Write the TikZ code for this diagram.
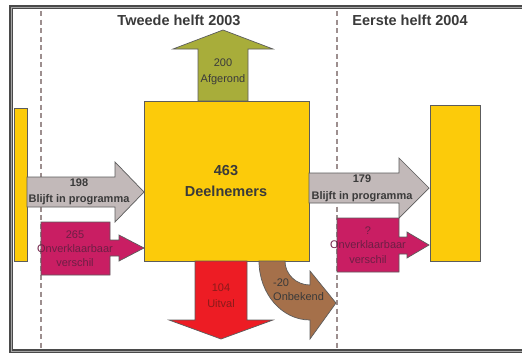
\documentclass[tikz,border=0pt]{standalone}
\usepackage{fontspec}
\setmainfont{Liberation Sans}
\definecolor{ylw}{HTML}{FCCB0A}
\definecolor{olv}{HTML}{A8AD3A}
\definecolor{gry}{HTML}{C2B9B9}
\definecolor{mag}{HTML}{C91E63}
\definecolor{rd}{HTML}{ED1C24}
\definecolor{brn}{HTML}{A5704A}
\definecolor{txt}{HTML}{3A3A3A}
\definecolor{magtxt}{HTML}{6E1E45}
\definecolor{rdtxt}{HTML}{8A1A1A}
\definecolor{dsh}{HTML}{9D8F8F}
\definecolor{frm}{HTML}{4A4A4A}
\tikzset{
  shapeline/.style={draw=frm!90, line width=0.7pt, line join=miter},
  divider/.style={dsh, line width=1.2pt, dash pattern=on 5pt off 3.5pt},
  titletext/.style={font=\fontsize{14.5}{16}\selectfont\bfseries, text=txt, inner sep=0pt},
  boldlabel/.style={font=\fontsize{11}{16}\selectfont\bfseries, text=txt, align=center, inner sep=0pt},
  plainlabel/.style={font=\fontsize{11}{16}\selectfont, text=txt, align=center, inner sep=0pt},
}
\begin{document}
\begin{tikzpicture}[x=1pt,y=-1pt]
\useasboundingbox (0,0) rectangle (522,354);
\fill[white] (0,0) rectangle (522,354);
% frame
\draw[frm, line width=4pt] (522,7) -- (11,7) -- (11,351) -- (522,351);
\draw[gray!70, line width=0.8pt] (522,7) -- (11,7) -- (11,351) -- (522,351);
% dividers
\coordinate (d1t) at (41,11); \coordinate (d1b) at (41,349);
\coordinate (d2t) at (337,11); \coordinate (d2b) at (337,349);
\draw[divider] (d1t) -- (d1b);
\draw[divider] (d2t) -- (d2b);
% titles
\node[titletext] (t1) at (179,20) {Tweede helft 2003};
\node[titletext] (t2) at (410,20) {Eerste helft 2004};
% left yellow bar
\filldraw[fill=ylw, shapeline] (14,108) rectangle (27,261);
% green arrow up
\filldraw[fill=olv, shapeline] (198,101) -- (198,49) -- (173,49) -- (223,30) -- (273,49) -- (248,49) -- (248,101) -- cycle;
% main box
\filldraw[fill=ylw, shapeline] (144,101) rectangle (309,261);
% gray left arrow
\filldraw[fill=gry, shapeline] (27,177) -- (115,177) -- (115,162) -- (144,192) -- (115,222) -- (115,207) -- (27,207) -- cycle;
% magenta left
\filldraw[fill=mag, shapeline] (41,222) -- (110,222) -- (110,240) -- (119,240) -- (119,235) -- (144,248) -- (119,261) -- (119,256) -- (110,256) -- (110,275) -- (41,275) -- cycle;
% red arrow down
\filldraw[fill=rd, shapeline] (195,261) -- (247,261) -- (247,320) -- (273,320) -- (221,339) -- (169,320) -- (195,320) -- cycle;
% brown curved arrow
\filldraw[fill=brn, shapeline] (259,261) .. controls (259,293.6) and (281.8,320) .. (310,320) -- (310,339) -- (336,303) -- (310,271) -- (310,285) .. controls (296.2,285) and (285,274.3) .. (285,261) -- cycle;
% gray right arrow
\filldraw[fill=gry, shapeline] (309,173) -- (399,173) -- (399,158) -- (429,188) -- (399,218) -- (399,203) -- (309,203) -- cycle;
% magenta right
\filldraw[fill=mag, shapeline] (337,218) -- (399,218) -- (399,237) -- (407,237) -- (407,232) -- (429,245) -- (407,258) -- (407,254) -- (399,254) -- (399,272) -- (337,272) -- cycle;
% right yellow box
\filldraw[fill=ylw, shapeline] (430,105) rectangle (480,261);
% labels
\node[plainlabel] (lg) at (223,72) {200\\Afgerond};
\node[font=\fontsize{14.5}{21}\selectfont\bfseries, text=txt, align=center, inner sep=0pt] (lm) at (226,181.5) {463\\Deelnemers};
\node[boldlabel] (lgl) at (79,192) {198\\Blijft in programma};
\node[plainlabel, text=magtxt, font=\fontsize{11}{14}\selectfont] (lml) at (75,249) {265\\Onverklaarbaar\\verschil};
\node[plainlabel, text=rdtxt] (lr) at (221,296) {104\\Uitval};
\node[plainlabel, align=left, anchor=west, font=\fontsize{11}{14}\selectfont] (lb) at (273,290) {-20\\Onbekend};
\node[boldlabel, font=\fontsize{11}{17}\selectfont\bfseries] (lgr) at (362,188.5) {179\\Blijft in programma};
\node[plainlabel, text=magtxt, font=\fontsize{11}{14.5}\selectfont] (lmr) at (368,245) {?\\Onverklaarbaar\\verschil};
\end{tikzpicture}
\end{document}
